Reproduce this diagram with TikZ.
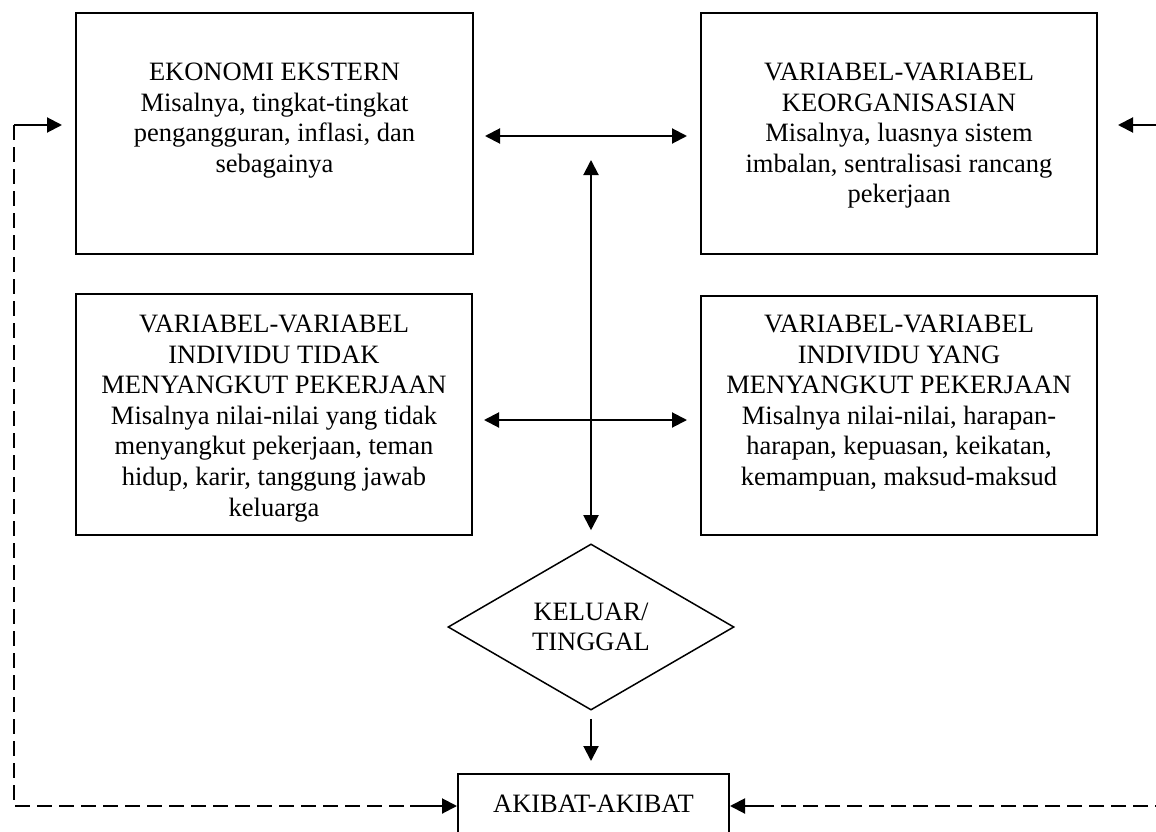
\documentclass[tikz,border=0pt]{standalone}
\usepackage{fontspec}
\setmainfont{Liberation Serif}
\usetikzlibrary{arrows.meta,shapes.geometric}
\begin{document}
\begin{tikzpicture}[x=1pt,y=-1pt,
  line width=2pt,
  txt/.style={font=\fontsize{26.5pt}{30.6pt}\selectfont, align=center, inner sep=0pt},
  box/.style={draw, line width=2pt, inner sep=0pt},
  arr/.style={-{Triangle[length=15pt,width=15pt]}},
  darr/.style={{Triangle[length=15pt,width=15pt]}-{Triangle[length=15pt,width=15pt]}},
  feedback/.style={dash pattern=on 15pt off 7pt}
]
\useasboundingbox (0,0) rectangle (1156,832);

% four factor boxes
\node[box, minimum width=397pt, minimum height=241pt] (ek) at (274.5,133.5) {};
\node[box, minimum width=396pt, minimum height=241pt] (org) at (899,133.5) {};
\node[box, minimum width=396pt, minimum height=241pt] (indt) at (274,414.5) {};
\node[box, minimum width=396pt, minimum height=239pt] (indy) at (899,415.5) {};

\node[txt, anchor=north] (ekt) at (274.5,62)
  {EKONOMI EKSTERN\\Misalnya, tingkat-tingkat\\pengangguran, inflasi, dan\\sebagainya};
\node[txt, anchor=north] (orgt) at (899,62)
  {VARIABEL-VARIABEL\\KEORGANISASIAN\\Misalnya, luasnya sistem\\imbalan, sentralisasi rancang\\pekerjaan};
\node[txt, anchor=north] (indtt) at (274,314)
  {VARIABEL-VARIABEL\\INDIVIDU TIDAK\\MENYANGKUT PEKERJAAN\\Misalnya nilai-nilai yang tidak\\menyangkut pekerjaan, teman\\hidup, karir, tanggung jawab\\keluarga};
\node[txt, anchor=north] (indyt) at (899,314)
  {VARIABEL-VARIABEL\\INDIVIDU YANG\\MENYANGKUT PEKERJAAN\\Misalnya nilai-nilai, harapan-\\harapan, kepuasan, keikatan,\\kemampuan, maksud-maksud};

% decision and outcome
\node[draw, shape=diamond, line width=1.5pt, minimum width=286pt, minimum height=158pt,
      inner sep=0pt, txt] (dec) at (591,627) {KELUAR/\\TINGGAL};
\node[box, txt, anchor=north, minimum width=271pt, text height=38pt, text depth=40pt]
      (akb) at (593.5,773) {AKIBAT-AKIBAT};

% mutual influences
\coordinate (vtop) at (591,160);
\coordinate (h1) at (0,136);
\coordinate (h2) at (0,420);
\draw[darr, shorten <=11pt, shorten >=13pt] (ek.east |- h1) -- (org.west |- h1);
\draw[darr, shorten <=11pt, shorten >=13pt] (indt.east |- h2) -- (indy.west |- h2);
\draw[darr, shorten >=13pt] (vtop) -- (dec.north);
\draw[arr, shorten <=8pt, shorten >=12pt] (dec.south) -- (dec.south |- akb.north);

% feedback loops
\coordinate (lc) at (14,125);
\coordinate (lb) at (14,806);
\coordinate (la) at (410,806);
\draw[feedback] (lc) -- (lb) -- (la);
\draw[arr, shorten >=13pt] (lc) -- (ek.west |- lc);
\draw[arr] (la) -- (akb.west |- la);

\coordinate (rc) at (1170,125);
\coordinate (rb) at (1170,806);
\coordinate (ra) at (768,806);
\draw[feedback] (rb) -- (ra);
\draw[arr, shorten >=20pt] (rc) -- (org.east |- rc);
\draw[arr] (ra) -- (akb.east |- ra);
\end{tikzpicture}
\end{document}
